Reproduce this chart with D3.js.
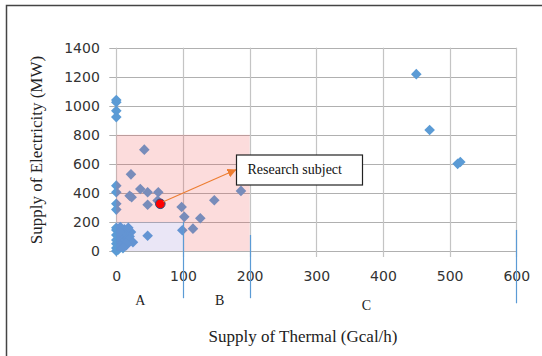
<!DOCTYPE html>
<html><head><meta charset="utf-8">
<script src="https://cdn.jsdelivr.net/npm/d3@7"></script>
<style>body{margin:0;background:#fff}svg{display:block}</style>
</head><body>
<svg id="c" width="542" height="356"></svg>
<script>
// Scatter data: supply of thermal (Gcal/h) vs supply of electricity (MW)
const thermal = [
  0, 0, 0, 0, 0, 0, 0, 0,
  42, 22, 36, 47, 63, 20, 23, 47, 62, 66, 98, 102, 99, 115, 126, 147, 187, 47,
  0, 0, 0, 0, 0, 0, 0,
  3, 5, 8, 10, 12, 6, 15, 18, 20, 22, 18, 25, 12, 8, 15, 3, 10, 5,
  450, 470, 512, 516
];
const electricity = [
  1040, 1025, 965, 922, 450, 405, 325, 285,
  698, 528, 427, 405, 405, 380, 370, 318, 347, 325, 303, 235, 143, 154, 226, 350, 414, 105,
  0, 20, 50, 75, 110, 145, 160,
  10, 30, 60, 90, 150, 165, 40, 70, 100, 130, 160, 60, 120, 120, 55, 100, 20, 130,
  1218, 833, 600, 613
];
const subject = {thermal: 66, electricity: 325, label: "Research subject"};
const xTicks = [0, 100, 200, 300, 400, 500, 600];
const yTicks = [0, 200, 400, 600, 800, 1000, 1200, 1400];
const zoneLabels = ["A", "B", "C"];
const zoneCenters = [36, 155, 375];
const zoneBounds = [100, 200, 600];
const zoneBoundTop = [200, 110, 145];
const zoneBoundBottom = [-325, -325, -360];
const bigZone = {x0: 0, x1: 200, y0: 0, y1: 800};
const smallZone = {x0: 0, x1: 100, y0: 0, y1: 200};
const xTitle = "Supply of Thermal (Gcal/h)";
const yTitle = "Supply of Electricity (MW)";

const svg = d3.select("#c");
svg.append("rect").attr("width", 542).attr("height", 356).attr("fill", "#fff");
// outer frame (left and top edges visible)
svg.append("path").attr("d", "M6.5,356V5.5H542").attr("fill", "none").attr("stroke", "#444").attr("stroke-width", 1.5);

const x = d3.scaleLinear().domain([0, 600]).range([116.3, 516.3]);
const y = d3.scaleLinear().domain([0, 1400]).range([251, 47.7]);

// gridlines
const g = svg.append("g");
g.selectAll("line.h").data(yTicks).join("line")
  .attr("x1", x(0) - 7).attr("x2", x(600))
  .attr("y1", d => Math.round(y(d)) + 0.5).attr("y2", d => Math.round(y(d)) + 0.5)
  .attr("stroke", "#b0b0b0").attr("stroke-width", 1);
g.selectAll("line.v").data(xTicks).join("line")
  .attr("x1", d => Math.round(x(d)) + 0.5).attr("x2", d => Math.round(x(d)) + 0.5)
  .attr("y1", y(1400)).attr("y2", y(0) + 6)
  .attr("stroke", "#c4c4c4").attr("stroke-width", 1.2);

// axes labels via d3 axes
const xAxis = svg.append("g").attr("transform", `translate(0,${y(0)})`)
  .call(d3.axisBottom(x).tickValues(xTicks).tickSize(0).tickPadding(20).tickFormat(d3.format("d")));
const yAxis = svg.append("g").attr("transform", `translate(${x(0)},0)`)
  .call(d3.axisLeft(y).tickValues(yTicks).tickSize(0).tickPadding(16.5).tickFormat(d3.format("d")));
[xAxis, yAxis].forEach(a => {
  a.select(".domain").remove();
  a.selectAll("text").attr("font-family", "DejaVu Sans").attr("font-size", 14).attr("fill", "#333");
});

// points
const pts = thermal.map((t, i) => ({t, e: electricity[i]}));
const diamond = "M0,-5.3L5.3,0L0,5.3L-5.3,0Z";
svg.append("g").selectAll("path").data(pts).join("path")
  .attr("d", diamond)
  .attr("transform", d => `translate(${x(d.t)},${y(d.e)})`)
  .attr("fill", "#5b9bd5");

// zones overlay
const big = d3.path();
big.moveTo(x(bigZone.x0), y(bigZone.y1));
big.lineTo(x(bigZone.x1), y(bigZone.y1));
big.lineTo(x(bigZone.x1), y(bigZone.y0));
big.lineTo(x(smallZone.x1), y(bigZone.y0));
big.lineTo(x(smallZone.x1), y(smallZone.y1));
big.lineTo(x(bigZone.x0), y(smallZone.y1));
big.closePath();
svg.append("path").attr("d", big.toString()).attr("fill", "rgb(238,80,80)").attr("fill-opacity", 0.2);
svg.append("rect")
  .attr("x", x(smallZone.x0)).attr("y", y(smallZone.y1))
  .attr("width", x(smallZone.x1) - x(smallZone.x0)).attr("height", y(smallZone.y0) - y(smallZone.y1))
  .attr("fill", "rgb(140,118,205)").attr("fill-opacity", 0.18);

// zone boundary lines
svg.append("g").selectAll("line").data(zoneBounds).join("line")
  .attr("x1", d => Math.round(x(d)) + 0.5).attr("x2", d => Math.round(x(d)) + 0.5)
  .attr("y1", (d, i) => y(zoneBoundTop[i])).attr("y2", (d, i) => y(zoneBoundBottom[i]))
  .attr("stroke", "#5b9bd5").attr("stroke-width", 1.2);

// zone labels
svg.append("g").selectAll("text").data(zoneLabels).join("text")
  .attr("x", (d, i) => x(zoneCenters[i]))
  .attr("y", (d, i) => i === 2 ? 310 : 305)
  .attr("text-anchor", "middle")
  .attr("font-family", "Liberation Serif").attr("font-size", 14).attr("fill", "#222")
  .text(d => d);

// research subject point
svg.append("circle").attr("cx", x(subject.thermal)).attr("cy", y(subject.electricity))
  .attr("r", 4.8).attr("fill", "#ff0000").attr("stroke", "#2f4f80").attr("stroke-width", 1);

// callout box & arrow
const box = {x: 236.5, y: 155, w: 126, h: 30};
svg.append("defs").append("marker").attr("id", "ah").attr("viewBox", "0 0 10 10")
  .attr("refX", 10).attr("refY", 5).attr("markerWidth", 9).attr("markerHeight", 9)
  .attr("markerUnits", "userSpaceOnUse").attr("orient", "auto")
  .append("path").attr("d", "M0,0L10,5L0,10Z").attr("fill", "#ed7d31");
svg.append("line")
  .attr("x1", x(subject.thermal) + 3).attr("y1", y(subject.electricity) - 2)
  .attr("x2", box.x).attr("y2", 169.5)
  .attr("stroke", "#ed7d31").attr("stroke-width", 1.1).attr("marker-end", "url(#ah)");
svg.append("rect").attr("x", box.x).attr("y", box.y).attr("width", box.w).attr("height", box.h)
  .attr("fill", "#fff").attr("stroke", "#222").attr("stroke-width", 1.2);
svg.append("text").attr("x", box.x + 11).attr("y", 174)
  .attr("font-family", "Liberation Serif").attr("font-size", 14).attr("fill", "#111")
  .text(subject.label);

// axis titles
svg.append("text").attr("x", 303).attr("y", 342).attr("text-anchor", "middle")
  .attr("font-family", "Liberation Serif").attr("font-size", 17).attr("fill", "#222").text(xTitle);
svg.append("text").attr("transform", "translate(42,150) rotate(-90)").attr("text-anchor", "middle")
  .attr("font-family", "Liberation Serif").attr("font-size", 17).attr("fill", "#222").text(yTitle);
</script>
</body></html>
